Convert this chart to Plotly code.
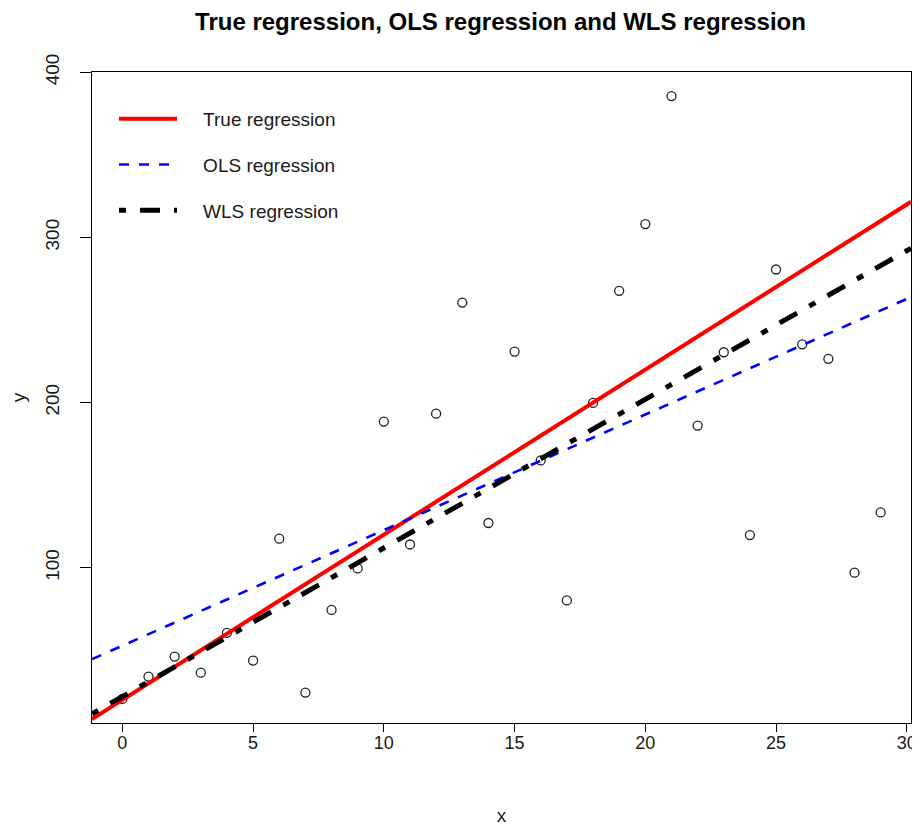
import plotly.graph_objects as go

# ---- data ----
x_obs = list(range(30))
y_obs = [20.6, 34.1, 46.2, 36.5, 60.6, 43.8, 117.6, 24.4, 74.5, 99.6,
         188.5, 114.1, 193.3, 260.6, 127.1, 230.9, 165.0, 80.2, 199.8, 267.7,
         308.1, 385.6, 186.1, 230.5, 119.8, 280.6, 235.3, 226.5, 97.0, 133.5]

line_names = ["True regression", "OLS regression", "WLS regression"]
intercepts = [20.0, 52.8, 22.0]
slopes = [10.0, 7.0, 9.0]
line_colors = ["#ff0000", "#0000ff", "#000000"]
line_widths = [4, 2.6, 5]
line_dashes = ["solid", "10px,10px", "7px,14px,20px,14px"]

x_range = [-1.16, 30.16]
y_range = [6.0, 400.2]
x_ticks = [0, 5, 10, 15, 20, 25, 30]
y_ticks = [100, 200, 300, 400]

FONT = "Liberation Sans, Arial, sans-serif"
PAD = "\u00a0\u00a0\u00a0\u00a0"

# page body has an 8px margin; figure sized to fit the window
W, H = 912, 818
OFF = 8

fig = go.Figure()

fig.add_trace(go.Scatter(
    x=x_obs, y=y_obs, mode="markers", showlegend=False,
    marker=dict(symbol="circle-open", size=9, color="#222222",
                line=dict(width=1.3, color="#222222")),
))

for i, name in enumerate(line_names):
    xs = x_range
    ys = [intercepts[i] + slopes[i] * v for v in xs]
    fig.add_trace(go.Scatter(
        x=xs, y=ys, mode="lines", name=PAD + name, legendgroup=name,
        line=dict(color=line_colors[i], width=line_widths[i], dash=line_dashes[i]),
    ))

plot_l, plot_r, plot_t, plot_b = 92 - OFF, 911 - OFF, 72 - OFF, 723 - OFF

fig.update_layout(
    width=W, height=H,
    margin=dict(l=plot_l, r=W - plot_r, t=plot_t, b=H - plot_b, autoexpand=False),
    paper_bgcolor="white", plot_bgcolor="white",
    font=dict(family=FONT, color="#1a1a1a"),
    title=dict(text="<b>True regression, OLS regression and WLS regression</b>",
               font=dict(size=24, color="#000000", family=FONT),
               x=(500.5 - OFF) / W, xanchor="center",
               yref="container", y=1 - 5 / H, yanchor="top", pad=dict(t=0)),
    showlegend=True,
    legend=dict(
        x=(114 - 92) / 819, xanchor="left",
        y=1 - (100 - 72) / 651, yanchor="top",
        bgcolor="rgba(0,0,0,0)", borderwidth=0,
        font=dict(size=19, color="#1a1a1a", family=FONT),
        itemwidth=58, traceorder="grouped", tracegroupgap=18,
    ),
    xaxis=dict(
        range=x_range, tickvals=x_ticks, ticktext=[str(v) for v in x_ticks],
        showgrid=False, zeroline=False, automargin=False,
        showline=True, linecolor="#000000", linewidth=1, mirror=True,
        ticks="outside", ticklen=8, tickcolor="#000000", tickwidth=1,
        ticklabelstandoff=-5,
        tickfont=dict(size=18, color="#1a1a1a"),
        title=dict(text="x", font=dict(size=19, color="#1a1a1a"), standoff=57),
    ),
    yaxis=dict(
        range=y_range, tickvals=y_ticks, ticktext=[str(v) for v in y_ticks],
        showgrid=False, zeroline=False, automargin=False,
        showline=True, linecolor="#000000", linewidth=1, mirror=True,
        ticks="outside", ticklen=11, tickcolor="#000000", tickwidth=1,
        tickangle=-90, ticklabelstandoff=13,
        tickfont=dict(size=19, color="#1a1a1a"),
        title=dict(text="y", font=dict(size=19, color="#1a1a1a"), standoff=46),
    ),
)

fig.write_html("out.html")
